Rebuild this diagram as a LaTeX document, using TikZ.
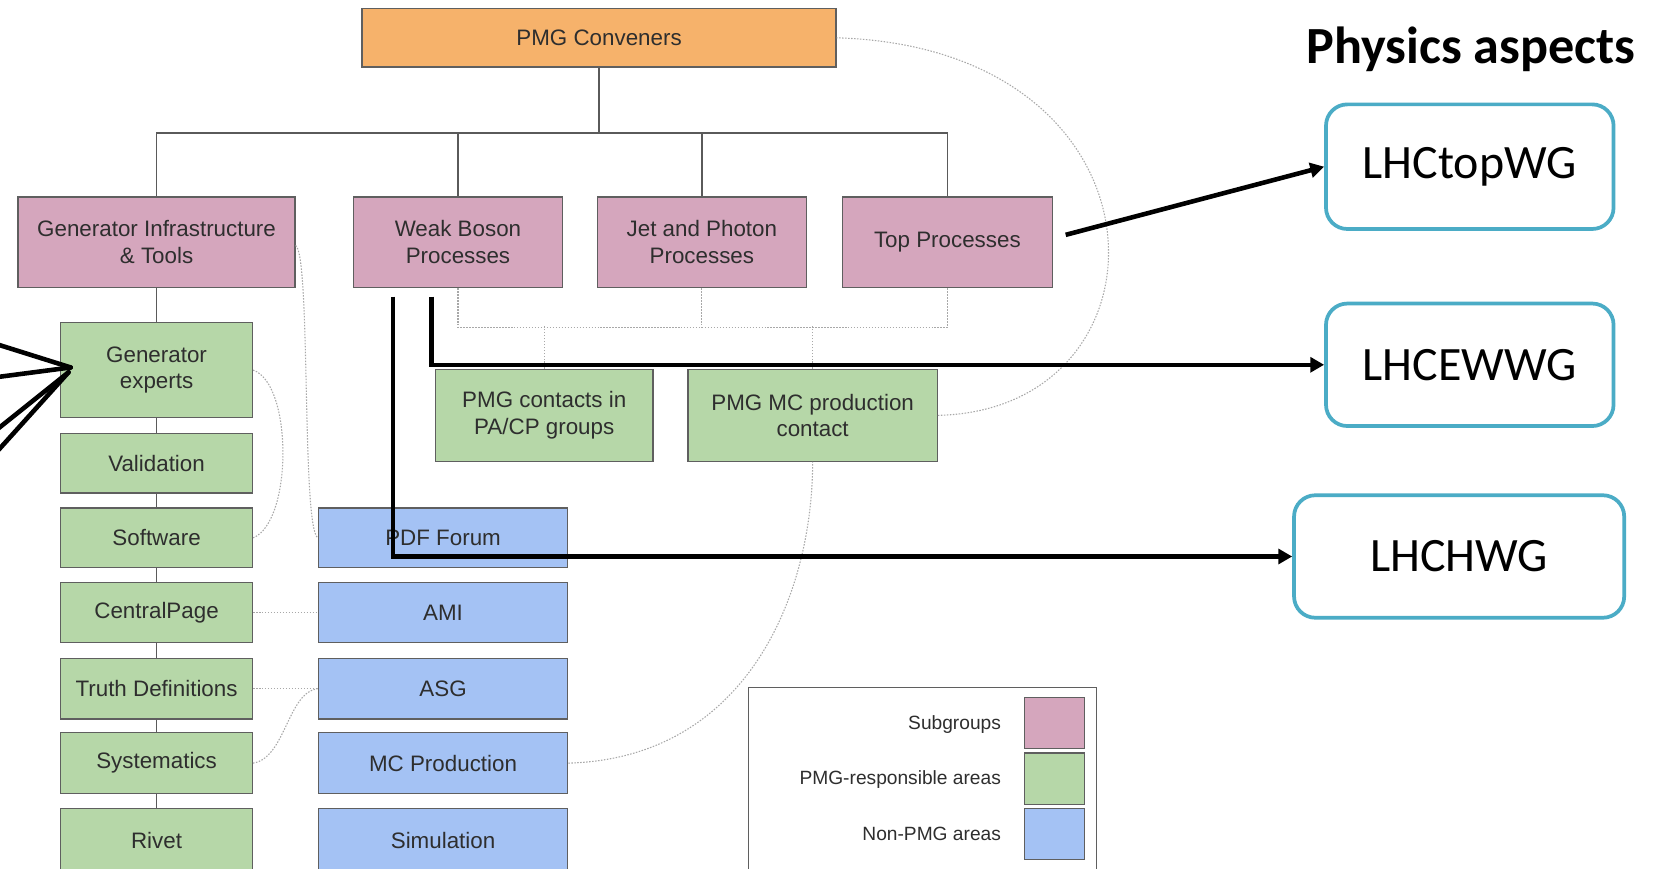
\documentclass[tikz,border=0pt]{standalone}
\usepackage{fontspec}
\setmainfont{Liberation Sans}
\newfontfamily\calibri{Carlito}
\usetikzlibrary{arrows.meta,calc}
\definecolor{orangeF}{HTML}{F6B26B}
\definecolor{pinkF}{HTML}{D5A6BD}
\definecolor{greenF}{HTML}{B6D7A8}
\definecolor{blueF}{HTML}{A4C2F4}
\definecolor{tealF}{HTML}{4BACC6}
\definecolor{boxline}{HTML}{5F5F5F}
\definecolor{boxtext}{HTML}{2E2E2E}
\definecolor{dotgray}{HTML}{A8A8A8}
\definecolor{treegray}{HTML}{5A5A5A}
\begin{document}
\begin{tikzpicture}[x=1pt,y=-1pt,
  box/.style={draw=boxline, line width=1.2pt, inner sep=0pt, align=center, text=boxtext,
    font=\fontsize{21}{25}\selectfont, minimum height=56},
  pinkbox/.style={box, fill=pinkF, minimum height=85},
  greenbox/.style={box, fill=greenF},
  lbox/.style={greenbox, minimum width=180},
  bbox/.style={box, fill=blueF, minimum width=234},
  phys/.style={draw=tealF, line width=3.5pt, rounded corners=20pt, fill=white, inner sep=0pt,
    font=\calibri\fontsize{45}{50}\selectfont},
  swatch/.style={draw=boxline, line width=1pt, minimum width=56, minimum height=48, inner sep=0pt},
  legtext/.style={text=boxtext, font=\fontsize{18}{22}\selectfont, inner sep=0pt, anchor=east},
  tree/.style={draw=treegray, line width=1.2pt},
  dotc/.style={draw=dotgray, line width=1pt, dash pattern=on 1.4pt off 1.4pt},
  blk/.style={draw=black, line width=4.3pt, line cap=round},
  arr/.style={blk, line cap=butt, -{Triangle[length=13pt,width=14pt]}}
]
\clip (0,0) rectangle (1568,815);
\fill[white] (0,0) rectangle (1568,815);

% top
\node[box, fill=orangeF, minimum width=445, minimum height=55] (conv) at (562.5,35.5) {PMG Conveners};
% subgroups
\node[pinkbox, minimum width=260] (gi) at (147,227.5) {Generator Infrastructure\\\& Tools};
\node[pinkbox, minimum width=196] (wb) at (430,227.5) {Weak Boson\\Processes};
\node[pinkbox, minimum width=196] (jp) at (659,227.5) {Jet and Photon\\Processes};
\node[pinkbox, minimum width=197] (tp) at (889.5,227.5) {\raisebox{-3pt}{Top Processes}};
% contacts
\node[greenbox, minimum width=204, minimum height=86] (pc) at (511,390) {PMG contacts in\\PA/CP groups};
\node[greenbox, minimum width=234, minimum height=86] (mc) at (763,390) {PMG MC production\\contact};
% left column
\node[lbox, minimum height=89] (ge) at (147,347.5) {Generator\\experts};
\node[lbox] (val) at (147,435) {Validation};
\node[lbox] (sw) at (147,505) {Software};
\node[lbox] (cp) at (147,575) {CentralPage};
\node[lbox, minimum height=57] (td) at (147,646.5) {Truth Definitions};
\node[lbox, minimum height=57] (sy) at (147,716.5) {Systematics};
\node[lbox, minimum height=60] (ri) at (147,789) {Rivet};
% blue column
\node[bbox] (pdf) at (416,505) {PDF Forum};
\node[bbox] (ami) at (416,575) {AMI};
\node[bbox, minimum height=57] (asg) at (416,646.5) {ASG};
\node[bbox, minimum height=57] (mcp) at (416,716.5) {MC Production};
\node[bbox, minimum height=60] (sim) at (416,789) {Simulation};

% legend
\node[draw=boxline, line width=1pt, minimum width=327, minimum height=190, inner sep=0pt, anchor=north west] (leg) at (702,645) {};
\node[swatch, fill=pinkF] (s1) at (990,679) {};
\node[swatch, fill=greenF] (s2) at (990,731) {};
\node[swatch, fill=blueF] (s3) at (990,783) {};
\node[legtext] (l1) at (940,680) {Subgroups};
\node[legtext] (l2) at (940,732) {PMG-responsible areas};
\node[legtext] (l3) at (940,783) {Non-PMG areas};

% tree lines
\coordinate (bus) at (562.5,125);
\draw[tree] (conv.south) -- (bus) -| (gi.north);
\draw[tree] (bus) -| (wb.north);
\draw[tree] (bus) -| (jp.north);
\draw[tree] (bus) -| (tp.north);
\draw[tree] (gi.south) -- (ge.north);
\draw[tree] (ge.south) -- (val.north);
\draw[tree] (val.south) -- (sw.north);
\draw[tree] (sw.south) -- (cp.north);
\draw[tree] (cp.south) -- (td.north);
\draw[tree] (td.south) -- (sy.north);
\draw[tree] (sy.south) -- (ri.north);

% dotted links
\draw[dotc] (wb.south) -- ++(0,37) -| (tp.south);
\draw[dotc] (jp.south) -- ++(0,37);
\draw[dotc] (pc.north) -- ++(0,-40);
\draw[dotc] (mc.north) -- ++(0,-40);
\draw[dotc] ([yshift=-3pt]gi.east) .. controls (292,240) and (283,495) .. (pdf.west);
\draw[dotc] (ge.east) .. controls (275,360) and (275,490) .. (sw.east);
\draw[dotc] (cp.east) -- (ami.west);
\draw[dotc] (td.east) -- (asg.west);
\draw[dotc] (sy.east) .. controls (268,712) and (270,650) .. (asg.west);
\draw[dotc] (mcp.east) .. controls (700,712) and (763,560) .. (mc.south);
\draw[dotc] (mc.east) .. controls (1108,385) and (1108,45) .. (conv.east);

% physics aspects
\node[font=\calibri\bfseries\fontsize{49}{54}\selectfont, anchor=base, inner sep=0pt] (pa) at (1381,60) {Physics aspects};
\node[phys, minimum width=270, minimum height=117] (lt) at (1380,156.5) {LHCtopWG};
\node[phys, minimum width=270, minimum height=115] (ew) at (1380,342.5) {LHCEWWG};
\node[phys, minimum width=310, minimum height=115] (hw) at (1370,522.5) {LHCHWG};

% black arrows
\draw[arr] ([xshift=12pt,yshift=7pt]tp.east) -- (lt.west);
\draw[arr] ([xshift=-25pt,yshift=-8pt]wb.south) |- (ew.west);
\draw[arr] ([xshift=-61pt,yshift=-8pt]wb.south) |- (hw.west);

% lines from the left
\coordinate (e1) at (-10,321);
\coordinate (e2) at (-10,355);
\coordinate (e3) at (-10,409);
\coordinate (e4) at (-10,432);
\draw[blk] (e1) -- ([xshift=10pt,yshift=2.5pt]ge.west);
\draw[blk] (e2) -- ([xshift=10pt,yshift=2.5pt]ge.west);
\draw[blk] (e3) -- ([xshift=8pt,yshift=-2pt]ge.west);
\draw[blk] (e4) -- ([xshift=8pt,yshift=-2pt]ge.west);
\end{tikzpicture}
\end{document}
